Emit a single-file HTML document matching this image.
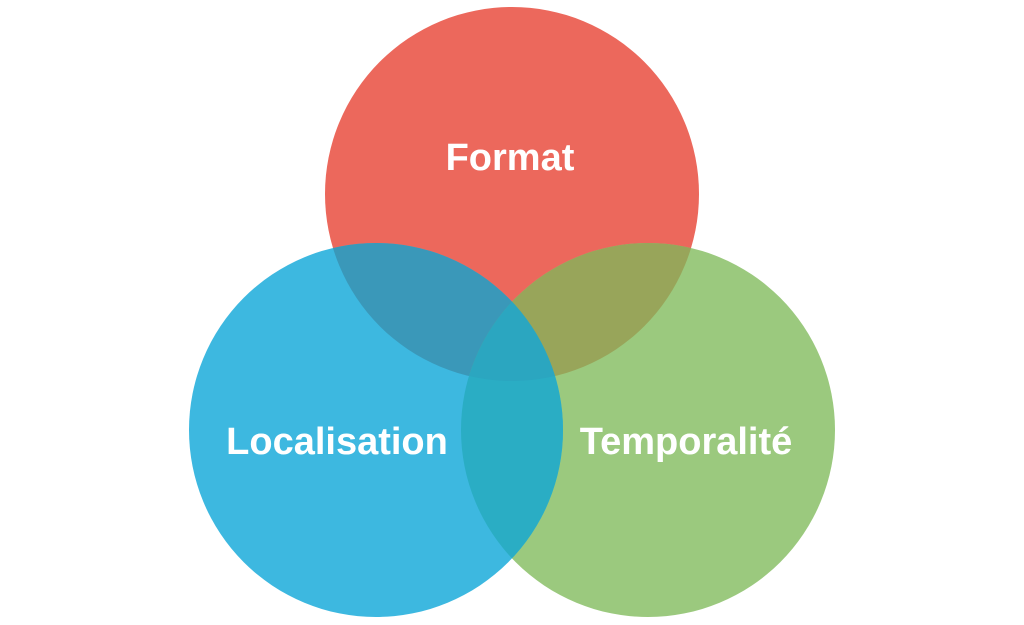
<!DOCTYPE html>
<html><head><meta charset="utf-8"><style>
html,body{margin:0;padding:0;background:#fff;}
svg{display:block}
text{font-family:"Liberation Sans",sans-serif;font-weight:bold;fill:#fff;font-size:38px;text-anchor:middle}
</style></head><body>
<svg width="1024" height="625" viewBox="0 0 1024 625">
<defs>
<clipPath id="cr"><circle cx="512" cy="194" r="187"/></clipPath>
<clipPath id="cb"><circle cx="376" cy="430" r="187"/></clipPath>
<clipPath id="cg"><circle cx="648" cy="430" r="187"/></clipPath>
</defs>
<circle cx="512" cy="194" r="187" fill="#EC685C"/>
<circle cx="648" cy="430" r="187" fill="#9BC97E"/>
<circle cx="376" cy="430" r="187" fill="#3DB8E0"/>
<g clip-path="url(#cr)"><circle cx="376" cy="430" r="187" fill="#3A98B9"/><circle cx="648" cy="430" r="187" fill="#98A55A"/></g>
<g clip-path="url(#cb)"><circle cx="648" cy="430" r="187" fill="#2AADC4"/></g>
<g clip-path="url(#cr)"><g clip-path="url(#cb)"><circle cx="648" cy="430" r="187" fill="#2BA6C0"/></g></g>
<text x="510" y="170">Format</text>
<text x="337" y="454">Localisation</text>
<text x="686" y="454">Temporalité</text>
</svg>
</body></html>
